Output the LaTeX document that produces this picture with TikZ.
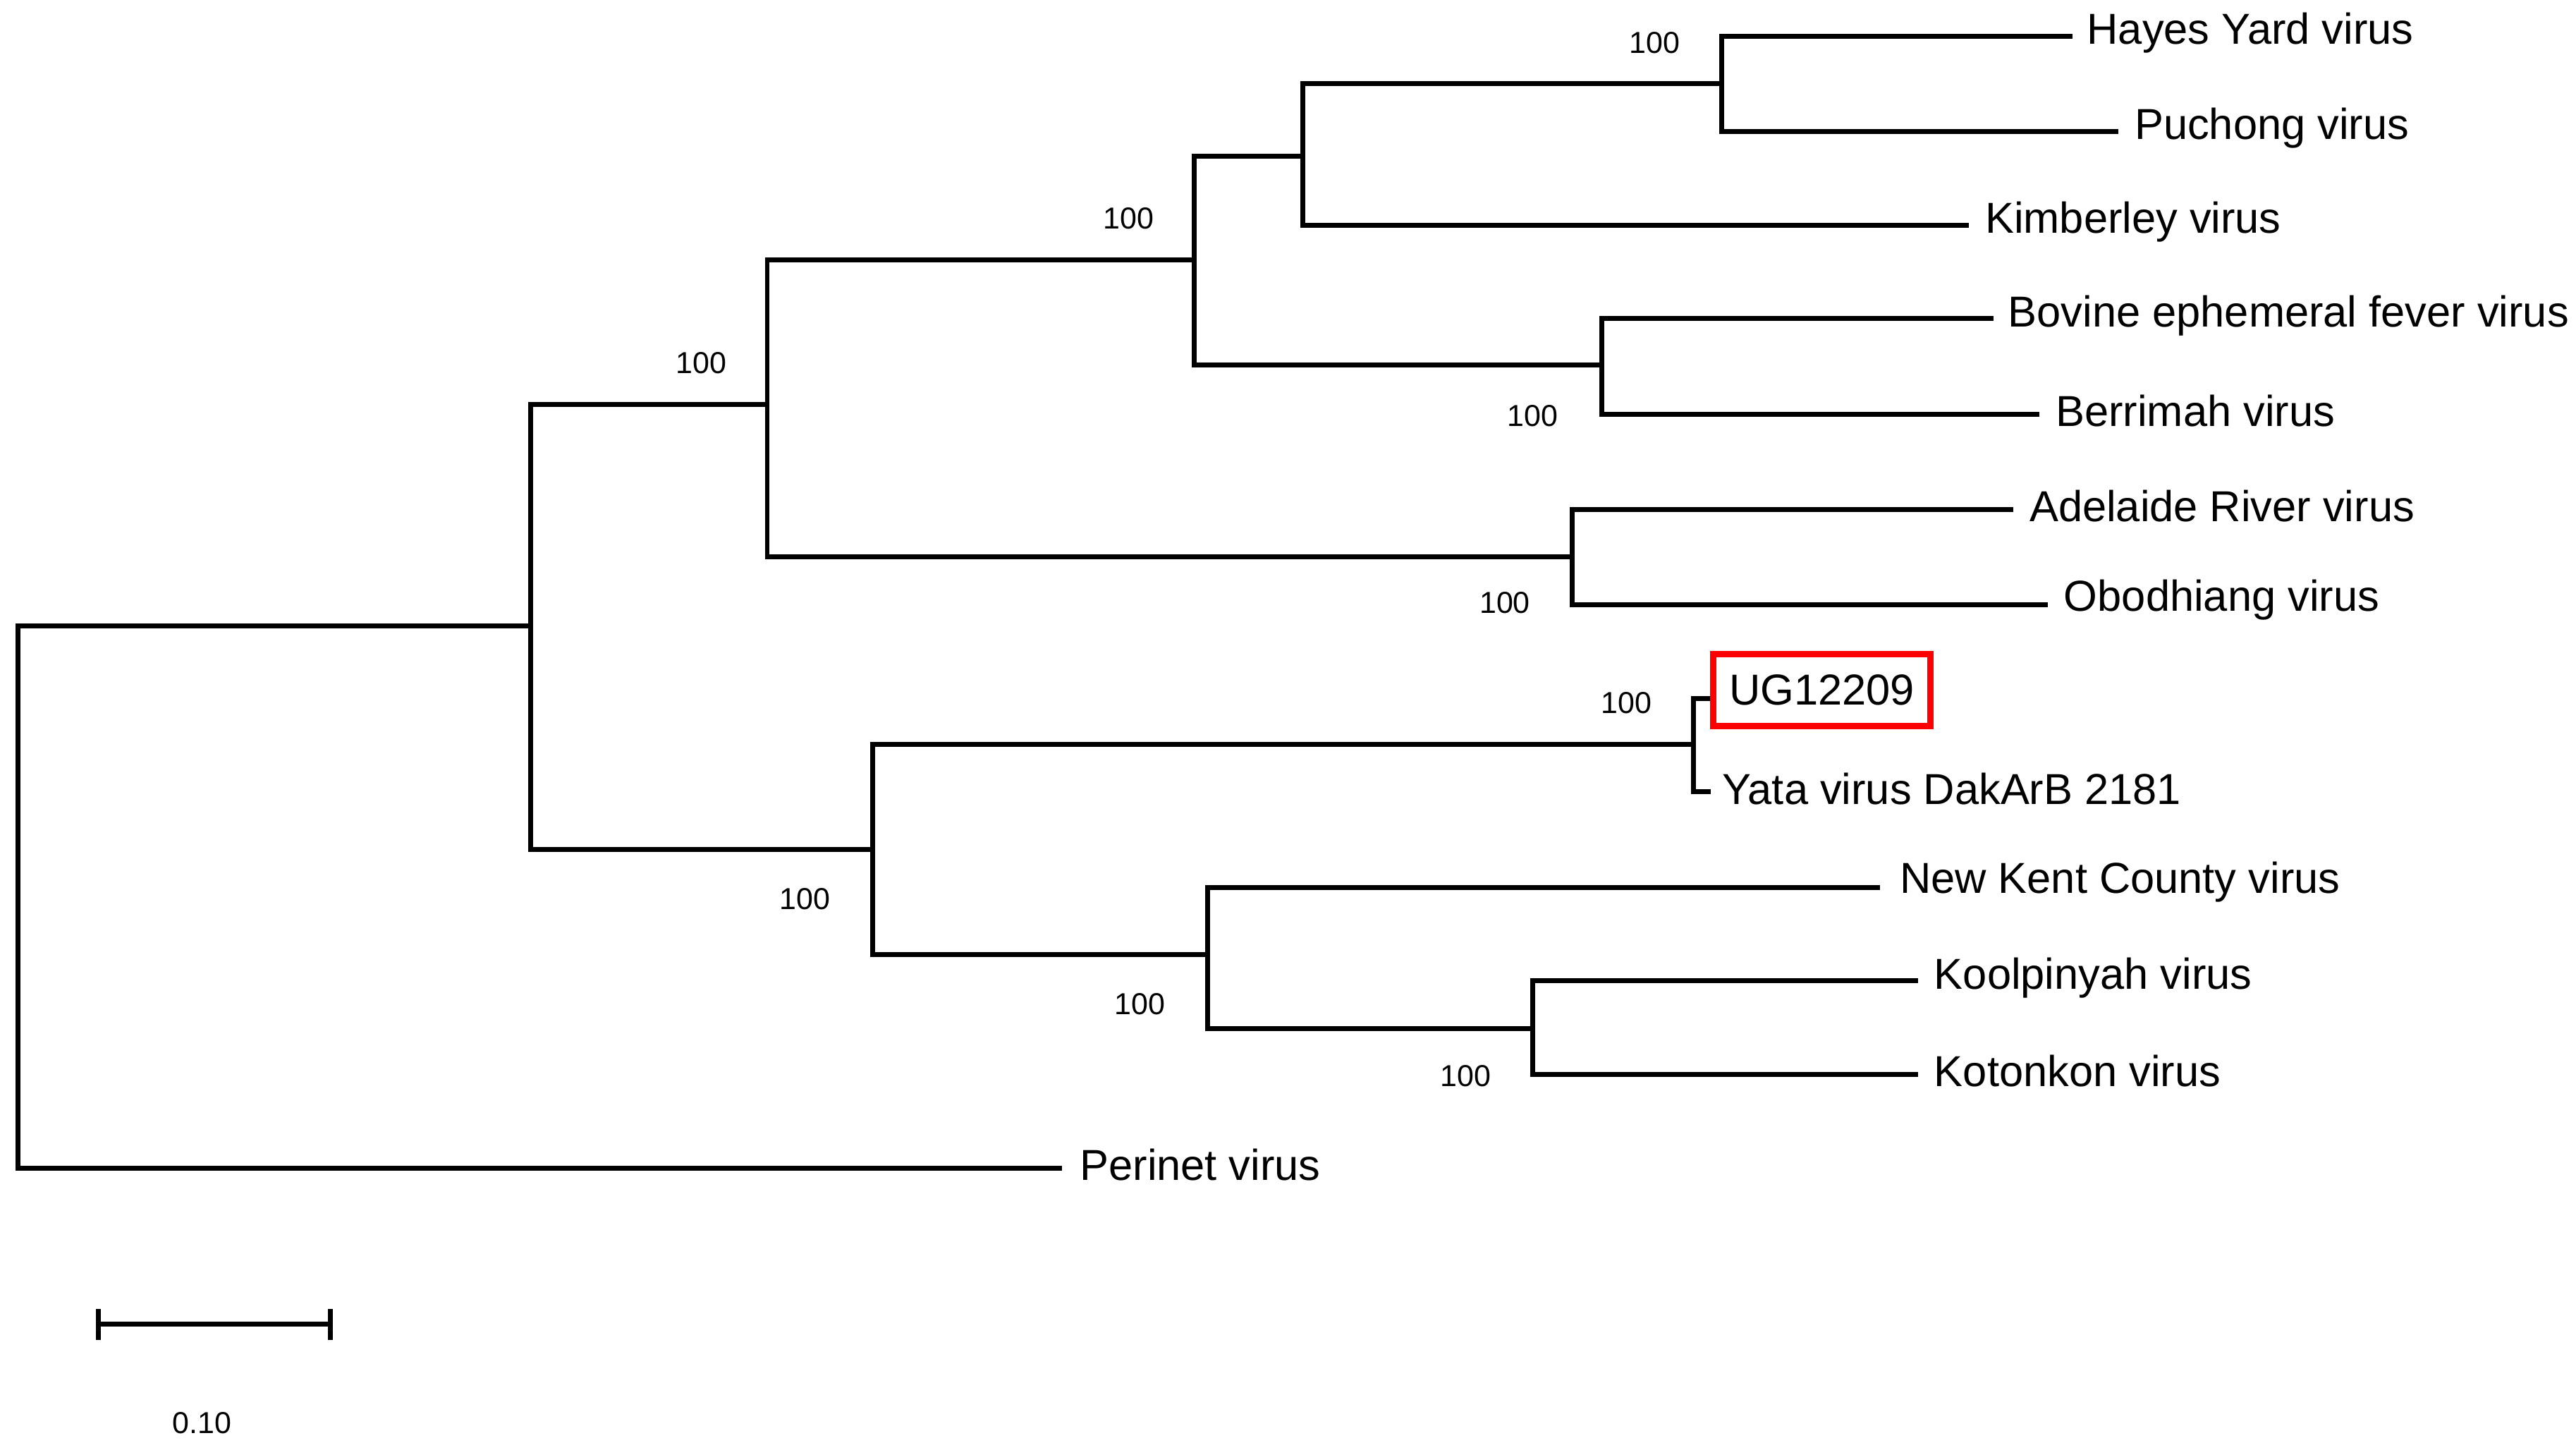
\documentclass[tikz,border=0pt]{standalone}
\usepackage{fontspec}
\setmainfont{Liberation Sans}
\begin{document}
\begin{tikzpicture}[x=0.02cm,y=-0.02cm,
  br/.style={line width=1.7pt,line cap=rect},
  leaf/.style={anchor=west,inner sep=0pt,font=\fontsize{15}{17}\selectfont},
  bs/.style={font=\fontsize{10.5}{12}\selectfont,inner sep=0pt}]
\useasboundingbox (0,0) rectangle (1568,882.5);
% internal nodes
\coordinate (R) at (11,381);
\coordinate (U) at (323,381);
\coordinate (A) at (467,246);
\coordinate (B) at (727,158);
\coordinate (C) at (793,95);
\coordinate (D) at (1048,51);
\coordinate (E) at (975,222);
\coordinate (F) at (957,339);
\coordinate (G) at (531,517);
\coordinate (H) at (1031,453);
\coordinate (I) at (735,581);
\coordinate (J) at (933,626);
% leaf ends
\coordinate (hy) at (1260,22);
\coordinate (pu) at (1288,80);
\coordinate (ki) at (1197,137);
\coordinate (bo) at (1212,194);
\coordinate (be) at (1240,252);
\coordinate (ad) at (1224,310);
\coordinate (ob) at (1245,368);
\coordinate (ug) at (1040,425);
\coordinate (ya) at (1040,482);
\coordinate (nk) at (1143,540);
\coordinate (ko) at (1166,597);
\coordinate (kt) at (1166,654);
\coordinate (pe) at (645,711);
% branches
\draw[br] (pe) -| (R) |- (U);
\draw[br] (U) |- (A) (U) |- (G);
\draw[br] (B) -| (A) |- (F);
\draw[br] (C) -| (B) |- (E);
\draw[br] (D) -| (C) |- (ki);
\draw[br] (hy) -| (D) |- (pu);
\draw[br] (bo) -| (E) |- (be);
\draw[br] (ad) -| (F) |- (ob);
\draw[br] (H) -| (G) |- (I);
\draw[br] (ug) -| (H) |- (ya);
\draw[br] (nk) -| (I) |- (J);
\draw[br] (ko) -| (J) |- (kt);
% labels
\node[leaf] (lhy) at (1270,20) {Hayes Yard virus};
\node[leaf] (lpu) at (1299,78) {Puchong virus};
\node[leaf] (lki) at (1208,135) {Kimberley virus};
\node[leaf] (lbo) at (1222,192) {Bovine ephemeral fever virus};
\node[leaf] (lbe) at (1251,250) {Berrimah virus};
\node[leaf] (lad) at (1235,308) {Adelaide River virus};
\node[leaf] (lob) at (1256,365) {Obodhiang virus};
\node[leaf,draw=red,line width=2.2pt,inner sep=4pt,minimum height=0.88cm,minimum width=2.64cm,align=center] (lug) at (1041,420) {UG12209};
\node[leaf] (lya) at (1048,480) {Yata virus DakArB 2181};
\node[leaf] (lnk) at (1156,537) {New Kent County virus};
\node[leaf] (lko) at (1177,595) {Koolpinyah virus};
\node[leaf] (lkt) at (1177,652) {Kotonkon virus};
\node[leaf] (lpe) at (657,709) {Perinet virus};
% bootstrap
\node[bs] (b1) at (1007,26) {100};
\node[bs] (b2) at (687,133) {100};
\node[bs] (b3) at (427,221) {100};
\node[bs] (b4) at (933,253) {100};
\node[bs] (b5) at (916,367) {100};
\node[bs] (b6) at (990,428) {100};
\node[bs] (b7) at (490,547) {100};
\node[bs] (b8) at (694,611) {100};
\node[bs] (b9) at (892,655) {100};
% scale bar
\coordinate (s1) at (60,806);
\coordinate (s2) at (201,806);
\draw[line width=1.7pt] (s1) -- (s2);
\draw[line width=1.7pt] ([yshift=-0.19cm]s1) -- ([yshift=0.19cm]s1);
\draw[line width=1.7pt] ([yshift=-0.19cm]s2) -- ([yshift=0.19cm]s2);
\node[bs] (sl) at (123,866) {0.10};
\end{tikzpicture}
\end{document}
